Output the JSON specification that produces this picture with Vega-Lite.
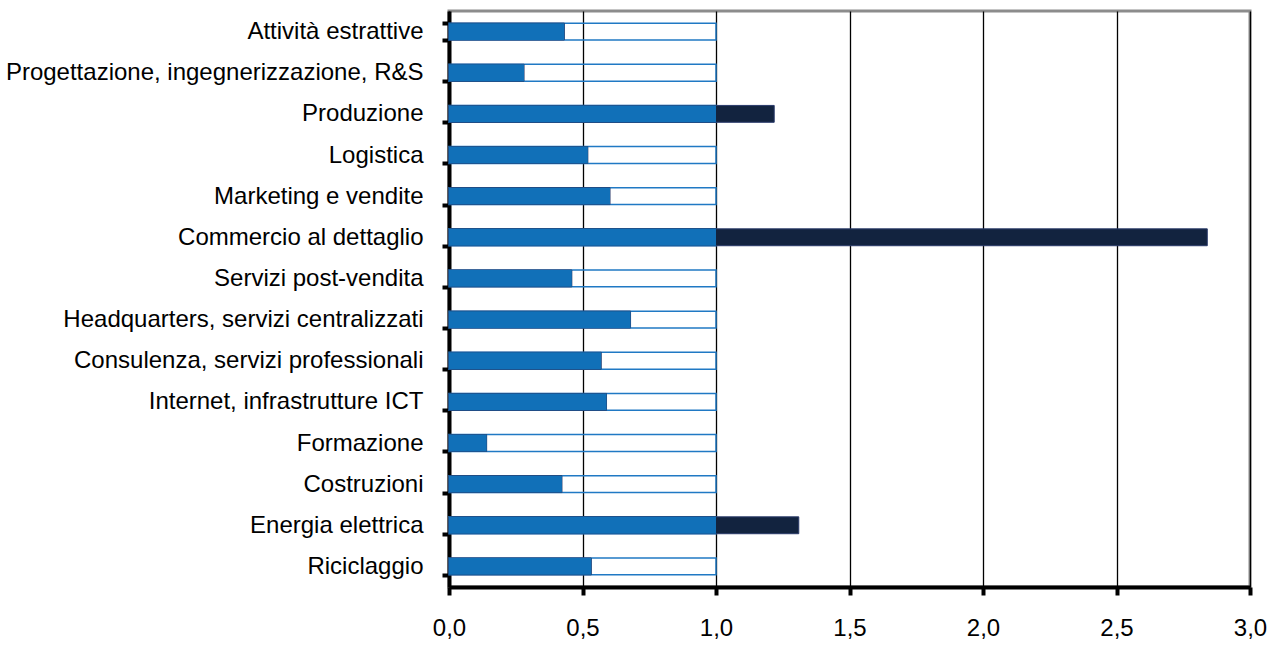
{
  "$schema": "https://vega.github.io/schema/vega-lite/v6.json",
  "width": 801,
  "height": 576,
  "autosize": {"type": "none"},
  "padding": {"left": 449, "top": 11, "right": 18, "bottom": 58},
  "background": "white",
  "config": {
    "view": {"stroke": "#8c8c8c", "strokeWidth": 3},
    "font": "Liberation Sans"
  },
  "data": {
    "values": [
      {"cat": "Attività estrattive", "v": 0.432},
      {"cat": "Progettazione, ingegnerizzazione, R&S", "v": 0.281},
      {"cat": "Produzione", "v": 1.218},
      {"cat": "Logistica", "v": 0.52},
      {"cat": "Marketing e vendite", "v": 0.603},
      {"cat": "Commercio al dettaglio", "v": 2.84},
      {"cat": "Servizi post-vendita", "v": 0.46},
      {"cat": "Headquarters, servizi centralizzati", "v": 0.68},
      {"cat": "Consulenza, servizi professionali", "v": 0.57},
      {"cat": "Internet, infrastrutture ICT", "v": 0.59},
      {"cat": "Formazione", "v": 0.141},
      {"cat": "Costruzioni", "v": 0.423},
      {"cat": "Energia elettrica", "v": 1.31},
      {"cat": "Riciclaggio", "v": 0.533}
    ]
  },
  "transform": [
    {"calculate": "min(datum.v, 1)", "as": "vb"},
    {"calculate": "0", "as": "zero"},
    {"calculate": "1", "as": "one"}
  ],
  "encoding": {
    "y": {
      "field": "cat", "type": "nominal", "sort": null, "title": null,
      "scale": {"paddingInner": 0.59, "paddingOuter": 0.295},
      "axis": {
        "domainColor": "black", "domainWidth": 4,
        "tickBand": "extent", "tickColor": "black", "tickWidth": 4, "tickSize": 7,
        "labelFont": "Liberation Sans", "labelFontSize": 24, "labelColor": "black",
        "labelPadding": 19, "labelLimit": 500
      }
    }
  },
  "layer": [
    {
      "mark": {"type": "bar", "fill": null, "stroke": "#2079c4", "strokeWidth": 1.5},
      "encoding": {
        "x": {
          "field": "zero", "type": "quantitative", "title": null,
          "scale": {"domain": [0, 3], "nice": false},
          "axis": {
            "values": [0, 0.5, 1, 1.5, 2, 2.5, 3],
            "labelExpr": "replace(format(datum.value, '.1f'), '.', ',')",
            "grid": true, "gridColor": "black", "gridWidth": 1.3, "gridOpacity": 1,
            "domainColor": "black", "domainWidth": 4,
            "tickColor": "black", "tickWidth": 4, "tickSize": 8,
            "labelFont": "Liberation Sans", "labelFontSize": 24, "labelColor": "black",
            "labelPadding": 21, "labelFlush": false
          }
        },
        "x2": {"field": "one"}
      }
    },
    {
      "mark": {"type": "bar", "fill": "#12233f", "stroke": "#2a3a6a", "strokeWidth": 1},
      "encoding": {
        "x": {"field": "zero", "type": "quantitative"},
        "x2": {"field": "v"}
      }
    },
    {
      "mark": {"type": "bar", "fill": "#1170b8"},
      "encoding": {
        "x": {"field": "zero", "type": "quantitative"},
        "x2": {"field": "vb"}
      }
    }
  ]
}
